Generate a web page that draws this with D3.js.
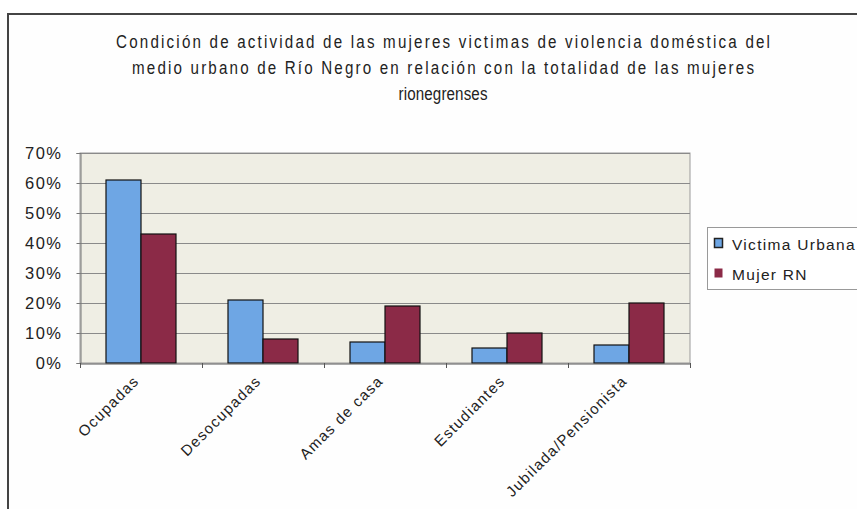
<!DOCTYPE html>
<html><head><meta charset="utf-8">
<script src="https://cdn.jsdelivr.net/npm/d3@7"></script>
<style>body{margin:0;background:#fff}svg{display:block}text{font-family:"Liberation Sans",Arial,sans-serif;fill:#222}</style>
</head><body><svg id="c" width="857" height="509"></svg>
<script>
const titleLines = ["Condición de actividad de las mujeres victimas de violencia doméstica del",
  "medio urbano de Río Negro en relación con la totalidad de las mujeres",
  "rionegrenses"];
const categories = ["Ocupadas","Desocupadas","Amas de casa","Estudiantes","Jubilada/Pensionista"];
const seriesNames = ["Victima Urbana","Mujer RN"];
const victimaUrbana = [61,21,7,5,6];
const mujerRN = [43,8,19,10,20];
const yTicks = [0,10,20,30,40,50,60,70];
const colors = ["#6ea6e4","#8b2a47"];

const svg = d3.select("#c");
// outer frame
svg.append("rect").attr("x",8).attr("y",14).attr("width",860).attr("height",520)
  .attr("fill","#fefefe").attr("stroke","#444").attr("stroke-width",2);

// title: narrow look via horizontal scaling
const titleWidths = [654,622,89];
const titleCx = 443, sx = 0.82;
titleLines.forEach((t,i)=>{
  svg.append("text").attr("transform",`translate(${titleCx},${48+i*26}) scale(${sx},1)`)
    .attr("text-anchor","middle").attr("font-size",18.5)
    .attr("textLength",titleWidths[i]/sx).attr("lengthAdjust","spacing").attr("fill","#2a2a2a").text(t);
});

const m = {l:80,r:690,t:153,b:363};
const x0 = d3.scaleBand().domain(categories).range([m.l,m.r]).paddingInner(0).paddingOuter(0);
const bw = 35;
const y = d3.scaleLinear().domain([0,70]).range([m.b,m.t]);

// plot bg
svg.append("rect").attr("x",m.l).attr("y",m.t).attr("width",m.r-m.l).attr("height",m.b-m.t)
  .attr("fill","#efeee4").attr("stroke","#9a9a9a").attr("stroke-width",1);

// gridlines
svg.append("g").selectAll("line").data(yTicks.filter(d=>d>0)).join("line")
  .attr("x1",m.l).attr("x2",m.r).attr("y1",d=>y(d)+0.5).attr("y2",d=>y(d)+0.5)
  .attr("stroke","#8a8a8a").attr("stroke-width",1);

// y axis
const yAxis = d3.axisLeft(y).tickValues(yTicks).tickFormat(d=>d+"%").tickSize(4).tickPadding(14);
const gy = svg.append("g").attr("transform",`translate(${m.l+0.5},0)`).call(yAxis);
gy.select(".domain").attr("stroke","#777");
gy.selectAll(".tick line").attr("stroke","#777");
gy.selectAll(".tick text").attr("font-size",16.5).attr("letter-spacing","1.5px")
  .attr("font-family","Liberation Sans, Arial, sans-serif").attr("fill","#333");

// bars
const data = categories.map((c,i)=>({c, v:[victimaUrbana[i],mujerRN[i]]}));
const g = svg.append("g");
data.forEach(d=>{
  const cx = x0(d.c)+x0.bandwidth()/2;
  d.v.forEach((v,j)=>{
    g.append("rect").attr("x",cx-bw+j*bw).attr("y",y(v)).attr("width",bw).attr("height",y(0)-y(v))
      .attr("fill",colors[j]).attr("stroke","#111").attr("stroke-width",1.2);
  });
});

// x axis
const xAxis = d3.axisBottom(x0).tickSize(0).tickFormat("");
const gx = svg.append("g").attr("transform",`translate(0,${m.b+0.5})`).call(xAxis);
gx.select(".domain").attr("stroke","#555");
svg.append("g").selectAll("line").data(d3.range(categories.length+1)).join("line")
  .attr("x1",i=>m.l+i*x0.step()+0.5).attr("x2",i=>m.l+i*x0.step()+0.5)
  .attr("y1",m.b).attr("y2",m.b+5).attr("stroke","#555");
svg.append("g").selectAll("text").data(categories).join("text")
  .attr("transform",d=>`translate(${x0(d)+x0.bandwidth()/2-1},${m.b+19}) rotate(-45)`)
  .attr("text-anchor","end").attr("font-size",15).attr("letter-spacing","1.3px").attr("fill","#333").text(d=>d);

// legend
const lg = svg.append("g");
lg.append("rect").attr("x",707.5).attr("y",227.5).attr("width",160).attr("height",62)
  .attr("fill","#fff").attr("stroke","#999");
seriesNames.forEach((s,i)=>{
  lg.append("rect").attr("x",714.5).attr("y",238.5+i*30).attr("width",8).attr("height",9)
    .attr("fill",colors[i]).attr("stroke",i===0?"#222":"none").attr("stroke-width",1.5);
  lg.append("text").attr("x",732).attr("y",250+i*30).attr("font-size",15.5).attr("letter-spacing","1.3px")
    .attr("fill","#333").text(s);
});
</script></body></html>
